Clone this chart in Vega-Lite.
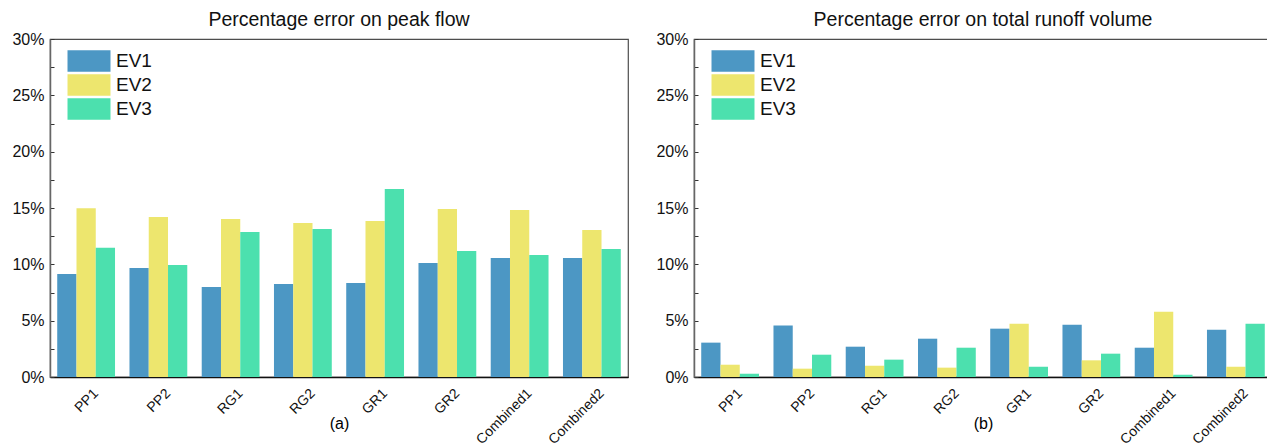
{
  "$schema": "https://vega.github.io/schema/vega-lite/v6.json",
  "padding": {"left": 11, "top": 8, "right": 0, "bottom": 0},
  "background": "white",
  "config": {
    "font": "Liberation Sans",
    "view": {"stroke": "#4d4d4d", "strokeWidth": 1.2},
    "axis": {"labelColor": "#111", "tickColor": "#333", "domainColor": "#333", "grid": false, "labelFont": "Liberation Sans"},
    "title": {"fontSize": 19.5, "fontWeight": "normal", "font": "Liberation Sans", "color": "#111", "offset": 1}
  },
  "data": {"values": [
    {"panel": "a", "cat": "PP1", "ev": "EV1", "value": 9.14},
    {"panel": "a", "cat": "PP1", "ev": "EV2", "value": 14.97},
    {"panel": "a", "cat": "PP1", "ev": "EV3", "value": 11.48},
    {"panel": "a", "cat": "PP2", "ev": "EV1", "value": 9.67},
    {"panel": "a", "cat": "PP2", "ev": "EV2", "value": 14.2},
    {"panel": "a", "cat": "PP2", "ev": "EV3", "value": 9.94},
    {"panel": "a", "cat": "RG1", "ev": "EV1", "value": 7.99},
    {"panel": "a", "cat": "RG1", "ev": "EV2", "value": 14.02},
    {"panel": "a", "cat": "RG1", "ev": "EV3", "value": 12.87},
    {"panel": "a", "cat": "RG2", "ev": "EV1", "value": 8.25},
    {"panel": "a", "cat": "RG2", "ev": "EV2", "value": 13.67},
    {"panel": "a", "cat": "RG2", "ev": "EV3", "value": 13.14},
    {"panel": "a", "cat": "GR1", "ev": "EV1", "value": 8.34},
    {"panel": "a", "cat": "GR1", "ev": "EV2", "value": 13.85},
    {"panel": "a", "cat": "GR1", "ev": "EV3", "value": 16.69},
    {"panel": "a", "cat": "GR2", "ev": "EV1", "value": 10.12},
    {"panel": "a", "cat": "GR2", "ev": "EV2", "value": 14.91},
    {"panel": "a", "cat": "GR2", "ev": "EV3", "value": 11.18},
    {"panel": "a", "cat": "Combined1", "ev": "EV1", "value": 10.56},
    {"panel": "a", "cat": "Combined1", "ev": "EV2", "value": 14.82},
    {"panel": "a", "cat": "Combined1", "ev": "EV3", "value": 10.83},
    {"panel": "a", "cat": "Combined2", "ev": "EV1", "value": 10.56},
    {"panel": "a", "cat": "Combined2", "ev": "EV2", "value": 13.05},
    {"panel": "a", "cat": "Combined2", "ev": "EV3", "value": 11.36},
    {"panel": "b", "cat": "PP1", "ev": "EV1", "value": 3.05},
    {"panel": "b", "cat": "PP1", "ev": "EV2", "value": 1.09},
    {"panel": "b", "cat": "PP1", "ev": "EV3", "value": 0.29},
    {"panel": "b", "cat": "PP2", "ev": "EV1", "value": 4.56},
    {"panel": "b", "cat": "PP2", "ev": "EV2", "value": 0.74},
    {"panel": "b", "cat": "PP2", "ev": "EV3", "value": 1.98},
    {"panel": "b", "cat": "RG1", "ev": "EV1", "value": 2.69},
    {"panel": "b", "cat": "RG1", "ev": "EV2", "value": 1.0},
    {"panel": "b", "cat": "RG1", "ev": "EV3", "value": 1.54},
    {"panel": "b", "cat": "RG2", "ev": "EV1", "value": 3.4},
    {"panel": "b", "cat": "RG2", "ev": "EV2", "value": 0.83},
    {"panel": "b", "cat": "RG2", "ev": "EV3", "value": 2.6},
    {"panel": "b", "cat": "GR1", "ev": "EV1", "value": 4.29},
    {"panel": "b", "cat": "GR1", "ev": "EV2", "value": 4.73},
    {"panel": "b", "cat": "GR1", "ev": "EV3", "value": 0.91},
    {"panel": "b", "cat": "GR2", "ev": "EV1", "value": 4.64},
    {"panel": "b", "cat": "GR2", "ev": "EV2", "value": 1.48},
    {"panel": "b", "cat": "GR2", "ev": "EV3", "value": 2.07},
    {"panel": "b", "cat": "Combined1", "ev": "EV1", "value": 2.6},
    {"panel": "b", "cat": "Combined1", "ev": "EV2", "value": 5.8},
    {"panel": "b", "cat": "Combined1", "ev": "EV3", "value": 0.2},
    {"panel": "b", "cat": "Combined2", "ev": "EV1", "value": 4.2},
    {"panel": "b", "cat": "Combined2", "ev": "EV2", "value": 0.91},
    {"panel": "b", "cat": "Combined2", "ev": "EV3", "value": 4.73}
  ]},
  "spacing": 26,
  "resolve": {"legend": {"color": "independent"}},
  "hconcat": [
    {
      "width": 578, "height": 338,
      "title": {"text": "Percentage error on peak flow"},
      "transform": [{"filter": "datum.panel == 'a'"}],
      "mark": {"type": "bar"},
      "encoding": {
        "x": {"field": "cat", "type": "nominal", "sort": ["PP1", "PP2", "RG1", "RG2", "GR1", "GR2", "Combined1", "Combined2"],
              "scale": {"paddingInner": 0.2, "paddingOuter": 0.1},
              "axis": {"title": "(a)", "labelAngle": -45, "labelFontSize": 14, "labelOffset": 5, "labelPadding": 14, "tickSize": -5, "domainColor": "#111", "domainWidth": 1.5, "tickColor": "#111", "titleFontSize": 16, "titleFontWeight": "normal", "titleY": 46, "titleBaseline": "middle"}},
        "xOffset": {"field": "ev", "type": "nominal", "scale": {"paddingInner": 0, "paddingOuter": 0}},
        "y": {"field": "value", "type": "quantitative", "scale": {"domain": [0, 30], "nice": false},
              "axis": {"title": null, "values": [0, 2.5, 5, 7.5, 10, 12.5, 15, 17.5, 20, 22.5, 25, 27.5, 30], "labelExpr": "datum.value % 5 == 0 ? datum.value + '%' : ''", "labelFontSize": 16, "tickSize": -4, "labelPadding": 10, "domainColor": "#666", "domainWidth": 1.5}},
        "color": {"field": "ev", "type": "nominal", "scale": {"domain": ["EV1", "EV2", "EV3"], "range": ["#4c97c4", "#ede66e", "#4ce0ae"]},
                  "legend": {"title": null, "orient": "none", "legendX": 28, "legendY": 11, "padding": 0, "symbolType": "M-2,-1H2V1H-2Z", "symbolSize": 462, "symbolStrokeWidth": 0, "symbolOpacity": 1, "labelFontSize": 19, "labelOffset": 16, "rowPadding": 2, "labelColor": "#111"}}
      }
    },
    {
      "width": 578, "height": 338,
      "title": {"text": "Percentage error on total runoff volume"},
      "transform": [{"filter": "datum.panel == 'b'"}],
      "mark": {"type": "bar"},
      "encoding": {
        "x": {"field": "cat", "type": "nominal", "sort": ["PP1", "PP2", "RG1", "RG2", "GR1", "GR2", "Combined1", "Combined2"],
              "scale": {"paddingInner": 0.2, "paddingOuter": 0.1},
              "axis": {"title": "(b)", "labelAngle": -45, "labelFontSize": 14, "labelOffset": 5, "labelPadding": 14, "tickSize": -5, "domainColor": "#111", "domainWidth": 1.5, "tickColor": "#111", "titleFontSize": 16, "titleFontWeight": "normal", "titleY": 46, "titleBaseline": "middle"}},
        "xOffset": {"field": "ev", "type": "nominal", "scale": {"paddingInner": 0, "paddingOuter": 0}},
        "y": {"field": "value", "type": "quantitative", "scale": {"domain": [0, 30], "nice": false},
              "axis": {"title": null, "values": [0, 2.5, 5, 7.5, 10, 12.5, 15, 17.5, 20, 22.5, 25, 27.5, 30], "labelExpr": "datum.value % 5 == 0 ? datum.value + '%' : ''", "labelFontSize": 16, "tickSize": -4, "labelPadding": 10, "domainColor": "#666", "domainWidth": 1.5}},
        "color": {"field": "ev", "type": "nominal", "scale": {"domain": ["EV1", "EV2", "EV3"], "range": ["#4c97c4", "#ede66e", "#4ce0ae"]},
                  "legend": {"title": null, "orient": "none", "legendX": 28, "legendY": 11, "padding": 0, "symbolType": "M-2,-1H2V1H-2Z", "symbolSize": 462, "symbolStrokeWidth": 0, "symbolOpacity": 1, "labelFontSize": 19, "labelOffset": 16, "rowPadding": 2, "labelColor": "#111"}}
      }
    }
  ]
}
